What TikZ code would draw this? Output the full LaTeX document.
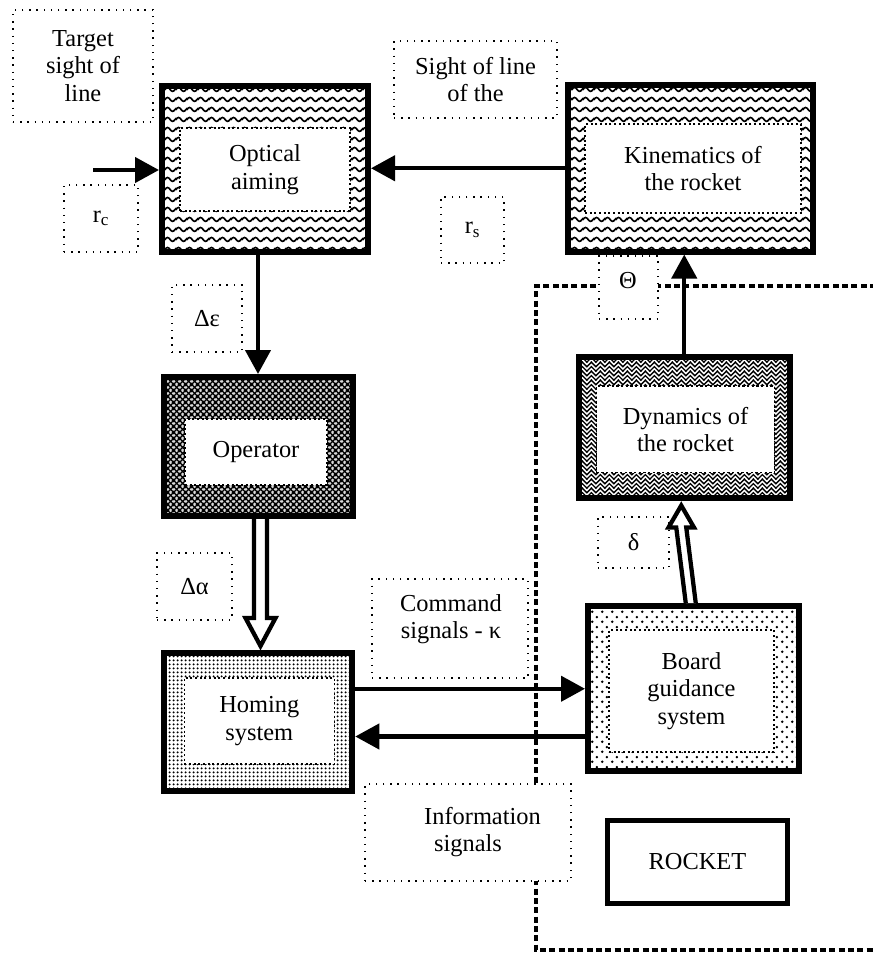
\documentclass[tikz,border=0pt]{standalone}
\usepackage{fontspec}
\setmainfont{Liberation Serif}
\usetikzlibrary{arrows.meta,patterns.meta,calc}

% wavy rows (optical aiming, kinematics)
\tikzdeclarepattern{
  name=wavy,
  tile size={(8.25pt,7.5pt)},
  bounding box={(0pt,0pt) and (8.25pt,7.5pt)},
  code={
    \draw[line width=1.35pt] (-2.0625pt,2.15pt) cos (0pt,3.75pt) sin (2.0625pt,5.35pt)
      cos (4.125pt,3.75pt) sin (6.1875pt,2.15pt) cos (8.25pt,3.75pt) sin (10.3125pt,5.35pt);
  }
}
% diagonal grid (operator)
\tikzdeclarepattern{
  name=xgrid,
  tile size={(4.5pt,4.5pt)},
  bounding box={(0pt,0pt) and (4.5pt,4.5pt)},
  code={
    \draw[line width=1.1pt]
      (-4.5pt,-4.5pt) -- (9pt,9pt)
      (-9pt,-4.5pt) -- (4.5pt,9pt)
      (0pt,-4.5pt) -- (13.5pt,9pt)
      (-4.5pt,9pt) -- (9pt,-4.5pt)
      (-9pt,9pt) -- (4.5pt,-4.5pt)
      (0pt,9pt) -- (13.5pt,-4.5pt);
  }
}
% zigzag weave (dynamics)
\tikzdeclarepattern{
  name=weave,
  tile size={(7pt,7pt)},
  bounding box={(0pt,0pt) and (7pt,7pt)},
  code={
    \draw[line width=1.1pt]
      (-3.5pt,3.5pt) -- (0pt,0pt) -- (3.5pt,3.5pt) -- (7pt,0pt) -- (10.5pt,3.5pt)
      (-3.5pt,7pt) -- (0pt,3.5pt) -- (3.5pt,7pt) -- (7pt,3.5pt) -- (10.5pt,7pt)
      (-3.5pt,0pt) -- (0pt,-3.5pt) -- (3.5pt,0pt) -- (7pt,-3.5pt) -- (10.5pt,0pt)
      (-3.5pt,10.5pt) -- (0pt,7pt) -- (3.5pt,10.5pt) -- (7pt,7pt) -- (10.5pt,10.5pt);
  }
}
% dense dots (homing system)
\tikzdeclarepattern{
  name=densedots,
  tile size={(3pt,3pt)},
  bounding box={(0pt,0pt) and (3pt,3pt)},
  code={ \fill (1.5pt,1.5pt) circle (1pt); }
}
% sparse staggered dots (board guidance system)
\tikzdeclarepattern{
  name=sparsedots,
  tile size={(7.5pt,7.5pt)},
  bounding box={(0pt,0pt) and (7.5pt,7.5pt)},
  code={
    \fill (1.875pt,1.875pt) circle (1.1pt);
    \fill (5.625pt,5.625pt) circle (1.1pt);
  }
}

\begin{document}
\begin{tikzpicture}[
  x=0.75pt, y=-0.75pt,
  font=\fontsize{18.3pt}{20.6pt}\selectfont,
  block/.style={draw, line width=4.5pt, inner sep=0pt},
  innerbox/.style={draw, fill=white, line width=1.1pt, dash pattern=on 1.6pt off 1.9pt,
    inner sep=0pt, align=center},
  lbl/.style={draw, fill=white, line width=1pt, dash pattern=on 1pt off 4.4pt,
    inner sep=0pt, align=center},
  plaintext/.style={inner sep=0pt, align=center},
  arr/.style={line width=3.2pt, -{Triangle[length=18pt,width=18.75pt]}},
  hollow/.style={draw, fill=white, line width=3.2pt, line join=miter},
  rocketline/.style={line width=3.2pt, dash pattern=on 4.5pt off 2.5pt}
]
\useasboundingbox (0,0) rectangle (873,954);

% boundary of the rocket
\coordinate (rbA) at (876,286);
\coordinate (rbB) at (536,286);
\coordinate (rbC) at (536,950);
\coordinate (rbD) at (876,950);
\draw[rocketline] (rbA) -- (rbB) -- (rbC) -- (rbD);

% main blocks
\node[block, pattern=wavy, minimum width=154.5pt, minimum height=124.5pt] (opt) at (265,168.5) {};
\node[innerbox, minimum width=127.5pt, minimum height=62.25pt] (optT) at (265,169.5) {Optical\\aiming};

\node[block, pattern=wavy, minimum width=183.75pt, minimum height=124.9pt] (kin) at (690.5,168.25) {};
\node[innerbox, minimum width=162pt, minimum height=66.75pt] (kinT) at (693,168.5) {Kinematics of\\the rocket};

\node[block, preaction={fill=black!15}, pattern=xgrid, minimum width=141.75pt, minimum height=104.25pt] (op) at (258,446.5) {};
\node[innerbox, minimum width=106.5pt, minimum height=49.5pt] (opT) at (256,452) {Operator};

\node[block, pattern=densedots, minimum width=141.4pt, minimum height=103.5pt] (hom) at (258,722) {};
\node[innerbox, minimum width=112.5pt, minimum height=64.5pt] (homT) at (259.3,721) {Homing\\system};

\node[block, pattern=sparsedots, minimum width=158.6pt, minimum height=124.1pt] (board) at (693.75,688.75) {};
\node[innerbox, minimum width=123.75pt, minimum height=91.5pt] (boardT) at (691.5,691) {Board\\guidance\\system};

\node[block, pattern=weave, minimum width=157.9pt, minimum height=106.1pt] (dyn) at (684.25,427.75) {};
\node[innerbox, minimum width=133.2pt, minimum height=65pt] (dynT) at (685.5,429.3) {Dynamics of\\the rocket};

\node[draw, line width=4pt, minimum width=135pt, minimum height=62.6pt, inner sep=0pt] (rocket) at (697.5,862) {ROCKET};

% signal labels
\node[lbl, minimum width=105pt, minimum height=84pt] (tgt) at (83,66) {Target\\sight of\\line};
\node[lbl, minimum width=122.25pt, minimum height=57.75pt] (sight) at (475.5,79.5) {Sight of line\\of the};
\node[lbl, minimum width=47.25pt, minimum height=49.5pt] (rs) at (472.5,230) {r\textsubscript{s}};
\node[lbl, minimum width=55.5pt, minimum height=50.25pt] (rc) at (101,218.5) {r\textsubscript{c}};
\node[lbl, minimum width=44.25pt, minimum height=47.25pt] (theta) at (628.5,287.5) {};
\node[plaintext] (thetaT) at (628,281) {Θ};
\node[lbl, minimum width=52.5pt, minimum height=50.25pt] (deps) at (207,318.5) {Δε};
\node[lbl, minimum width=56.25pt, minimum height=50.25pt] (dalpha) at (194.5,586.5) {Δα};
\node[lbl, minimum width=53.25pt, minimum height=38.25pt] (delta) at (633.5,542.5) {δ};
\node[lbl, minimum width=117pt, minimum height=74.25pt] (cmd) at (450,628.5) {};
\node[plaintext] (cmdT) at (451,619) {Command\\signals - κ};
\node[lbl, minimum width=154.5pt, minimum height=72.75pt] (info) at (468,832.5) {};
\node[plaintext] (infoT) at (468,832) {\hspace*{21.75pt}Information\\signals};

% connectors
\coordinate (inL) at (93,170);
\draw[arr] (inL) -- (opt.west |- inL);
\draw[arr] (kin.west) -- (opt.east |- kin.west);
\draw[arr] (op.north |- opt.south) -- (op.north);
\draw[arr] (dyn.north) -- (dyn.north |- kin.south);
\draw[arr] (hom.east |- board.west) -- (board.west);
\draw[arr] ([yshift=-35.8pt]board.west) -- ([yshift=-35.8pt]board.west -| hom.east);

% hollow arrows
\coordinate (baseA) at ($(op.south)+(2.5,0)$);
\coordinate (tipA) at ($(hom.north)+(2.5,-4)$);
\draw[hollow] ($(baseA)+(-6.5,0)$) -- ($(tipA)+(-6.5,-28)$) -- ($(tipA)+(-15,-28)$) -- (tipA)
  -- ($(tipA)+(15,-28)$) -- ($(tipA)+(6.5,-28)$) -- ($(baseA)+(6.5,0)$);

\coordinate (baseB) at ($(board.north)+(-3,0)$);
\coordinate (tipB) at ($(dyn.south)+(-3,4)$);
\draw[hollow] ($(baseB)+(-5,0)$) -- ($(tipB)+(-5,22)$) -- ($(tipB)+(-12.75,22)$) -- (tipB)
  -- ($(tipB)+(12.75,22)$) -- ($(tipB)+(5,22)$) -- ($(baseB)+(5,0)$);
\end{tikzpicture}
\end{document}
